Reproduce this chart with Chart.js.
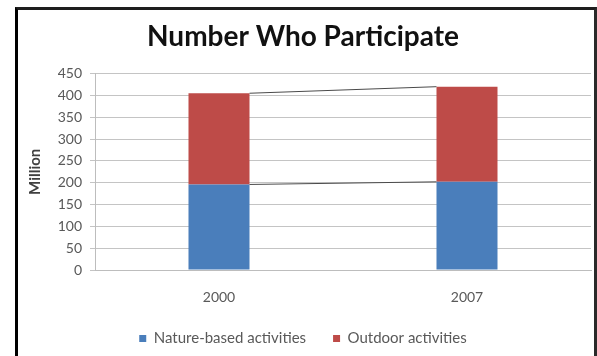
<!DOCTYPE html>
<html lang="en">
  <head>
    <meta charset="UTF-8" />
    <title>Number Who Participate</title>
    <script src="https://cdn.jsdelivr.net/npm/chart.js"></script>
    <style>
      body { margin: 0; background: #fff; }
      .wrap { position: relative; width: 597px; height: 356px; overflow: hidden; }
      canvas { position: absolute; left: 0; top: 0; }
      .frame {
        position: absolute; left: 15px; top: 7px; width: 582px; height: 400px;
        box-sizing: border-box; pointer-events: none;
        border-left: 3px solid #000; border-top: 3px solid #1e1e1e; border-right: 3px solid #2a2a2a;
      }
    </style>
  </head>
  <body>
    <div class="wrap">
      <canvas id="chart" width="597" height="356"></canvas>
      <div class="frame"></div>
    </div>
    <script>
      const years = ["2000", "2007"];
      const natureBased = [196, 202];
      const outdoor = [209, 218];
      const yTicks = [0, 50, 100, 150, 200, 250, 300, 350, 400, 450];

      // Excel-style series lines joining the bar tops
      const seriesLines = {
        id: "seriesLines",
        afterDatasetsDraw(chart) {
          const ctx = chart.ctx;
          ctx.save();
          ctx.strokeStyle = "#4a4a4a";
          ctx.lineWidth = 1;
          chart.data.datasets.forEach((ds, i) => {
            const bars = chart.getDatasetMeta(i).data;
            for (let j = 0; j < bars.length - 1; j++) {
              const a = bars[j];
              const b = bars[j + 1];
              ctx.beginPath();
              ctx.moveTo(a.x + a.width / 2, a.y);
              ctx.lineTo(b.x - b.width / 2, b.y);
              ctx.stroke();
            }
          });
          ctx.restore();
        },
      };

      Chart.defaults.font.family = "Lato";
      Chart.defaults.color = "#595959";

      new Chart(document.getElementById("chart").getContext("2d"), {
        type: "bar",
        data: {
          labels: years,
          datasets: [
            {
              label: "Nature-based activities",
              data: natureBased,
              backgroundColor: "#4a7ebb",
            },
            {
              label: "Outdoor activities",
              data: outdoor,
              backgroundColor: "#be4b48",
            },
          ],
        },
        options: {
          responsive: false,
          animation: false,
          categoryPercentage: 1,
          barPercentage: 0.246,
          layout: { padding: { left: 15, right: 6, top: 10, bottom: 0 } },
          plugins: {
            title: {
              display: true,
              text: "Number Who Participate",
              color: "#111",
              font: { size: 28, weight: "bold" },
              padding: { top: 10, bottom: 20 },
            },
            legend: {
              position: "bottom",
              labels: {
                boxWidth: 7,
                boxHeight: 7,
                padding: 27,
                color: "#595959",
                font: { size: 15 },
              },
            },
            tooltip: { enabled: false },
          },
          scales: {
            x: {
              stacked: true,
              afterFit: (scale) => {
                scale.height = 34;
              },
              grid: { display: false, drawTicks: false },
              border: { color: "#bdbdbd" },
              ticks: { padding: 19, font: { size: 14 } },
            },
            y: {
              stacked: true,
              min: 0,
              max: 450,
              afterBuildTicks: (scale) => {
                scale.ticks = yTicks.map((v) => ({ value: v }));
              },
              afterFit: (scale) => {
                scale.width = 80;
              },
              grid: { color: "#c4c4c4", tickLength: 5 },
              border: { color: "#bdbdbd" },
              ticks: { padding: 8, font: { size: 14 } },
              title: {
                display: true,
                text: "Million",
                color: "#404040",
                font: { size: 15, weight: "bold" },
                padding: { top: 11, bottom: 0 },
              },
            },
          },
        },
        plugins: [seriesLines],
      });
    </script>
  </body>
</html>
